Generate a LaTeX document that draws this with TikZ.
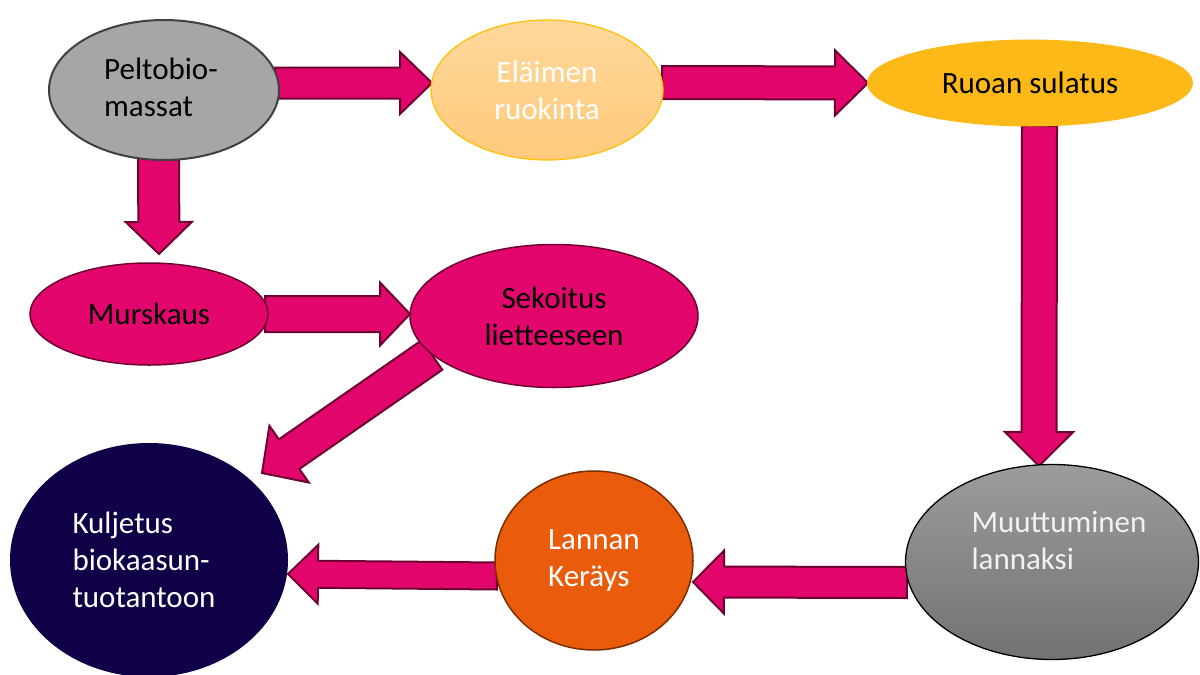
\documentclass[tikz,border=0pt]{standalone}
\usepackage{fontspec}
\setmainfont{Carlito}
\usetikzlibrary{calc,shapes.geometric}
\definecolor{mag}{HTML}{E3066D}
\definecolor{magline}{HTML}{6D0030}
\definecolor{peltogray}{HTML}{A6A6A6}
\definecolor{peltoline}{HTML}{404040}
\definecolor{elatop}{HTML}{FFD89A}
\definecolor{elabot}{HTML}{FFCA7C}
\definecolor{elaline}{HTML}{FFC000}
\definecolor{ruocol}{HTML}{FCB918}
\definecolor{kulcol}{HTML}{0F0048}
\definecolor{lancol}{HTML}{EA5B0C}
\definecolor{lanline}{HTML}{7A2E00}
\definecolor{muutop}{HTML}{9C9C9C}
\definecolor{muubot}{HTML}{727272}
\pgfdeclarelayer{bg}
\pgfsetlayers{bg,main}
\tikzset{
  oval/.style={ellipse, inner sep=0pt, align=center, font=\fontsize{31}{37}\selectfont},
  blockarrow/.style={fill=mag, draw=magline, line width=2pt, line join=miter},
}
\newcommand{\blockarr}[5]{%
  \coordinate (#1-base) at ($(#2)!#5!(#1)$);
  \draw[blockarrow] ($(#1)!#3!90:(#2)$) -- ($(#1-base)!#3!90:(#2)$) -- ($(#1-base)!#4!90:(#2)$)
    -- (#2) -- ($(#1-base)!#4!-90:(#2)$) -- ($(#1-base)!#3!-90:(#2)$) -- ($(#1)!#3!-90:(#2)$) -- cycle;
}
\begin{document}
\begin{tikzpicture}[x=1pt,y=-1pt]
\useasboundingbox (0,0) rectangle (1200,675);
% nodes
\node[oval, minimum width=230pt, minimum height=140pt, fill=peltogray, draw=peltoline, line width=2pt] (pel) at (164,90) {};
\node[oval, align=left] (pel-t) at ($(pel)+(-3,-3)$) {Peltobio-\\massat};
\node[oval, minimum width=232pt, minimum height=140pt, top color=elatop, bottom color=elabot, draw=elaline, line width=1.2pt, text=white] (ela) at (547,90) {Eläimen\\ruokinta};
\node[oval, minimum width=326pt, minimum height=87pt, fill=ruocol] (ruo) at (1030,83) {Ruoan sulatus};
\node[oval, minimum width=238pt, minimum height=102pt, fill=mag, draw=magline, line width=1.5pt] (mur) at (149,314) {Murskaus};
\node[oval, minimum width=288pt, minimum height=143pt, fill=mag, draw=magline, line width=1.5pt] (sek) at (554,316) {Sekoitus\\lietteeseen};
\node[oval, minimum width=278pt, minimum height=234pt, fill=kulcol] (kul) at (149,560) {};
\node[oval, text=white, align=left] (kul-t) at ($(kul)+(-5,0)$) {Kuljetus\\biokaasun-\\tuotantoon};
\node[oval, minimum width=198pt, minimum height=179pt, fill=lancol, draw=lanline, line width=1.5pt, text=white, align=left] (lan) at (594,560.5) {Lannan\\Keräys};
\node[oval, minimum width=293pt, minimum height=195pt, top color=muutop, bottom color=muubot, draw=black, line width=1.3pt] (muu) at (1052,562) {};
\node[oval, text=white!95!black, align=left] (muu-t) at ($(muu)+(7,-22)$) {Muuttuminen\\lannaksi};
% arrow end points
\coordinate (a1t) at ($(pel)+(111,-7)$);  \coordinate (a1h) at ($(ela)+(-115,-7)$);
\coordinate (a2t) at ($(ela)+(115,-7.5)$); \coordinate (a2h) at ($(ruo)+(-162,0)$);
\coordinate (a3t) at ($(ruo)+(9.5,43)$);   \coordinate (a3h) at ($(muu)+(-13,-96)$);
\coordinate (a4t) at ($(pel)+(-5.5,66)$);  \coordinate (a4h) at ($(mur)+(10,-60)$);
\coordinate (a5t) at ($(mur)+(116,0)$);    \coordinate (a5h) at ($(sek)+(-144,-2)$);
\coordinate (a6t) at ($(sek)+(-122,39)$);  \coordinate (a6h) at ($(kul)+(113,-87)$);
\coordinate (a7t) at ($(muu)+(-145,20.5)$);\coordinate (a7h) at ($(lan)+(99,21.5)$);
\coordinate (a8t) at ($(lan)+(-97,15.5)$); \coordinate (a8h) at ($(kul)+(139,14)$);
\begin{pgfonlayer}{bg}
\blockarr{a1t}{a1h}{15.5pt}{31pt}{32pt}
\blockarr{a2t}{a2h}{16.5pt}{32.5pt}{33pt}
\blockarr{a3t}{a3h}{17.5pt}{34pt}{34pt}
\blockarr{a4t}{a4h}{20.5pt}{33pt}{32pt}
\blockarr{a5t}{a5h}{18pt}{31.5pt}{30pt}
\blockarr{a6t}{a6h}{18pt}{34.5pt}{33pt}
\blockarr{a7t}{a7h}{15.5pt}{31.5pt}{31pt}
\blockarr{a8t}{a8h}{13.5pt}{29.5pt}{30pt}
\end{pgfonlayer}
\end{tikzpicture}
\end{document}
